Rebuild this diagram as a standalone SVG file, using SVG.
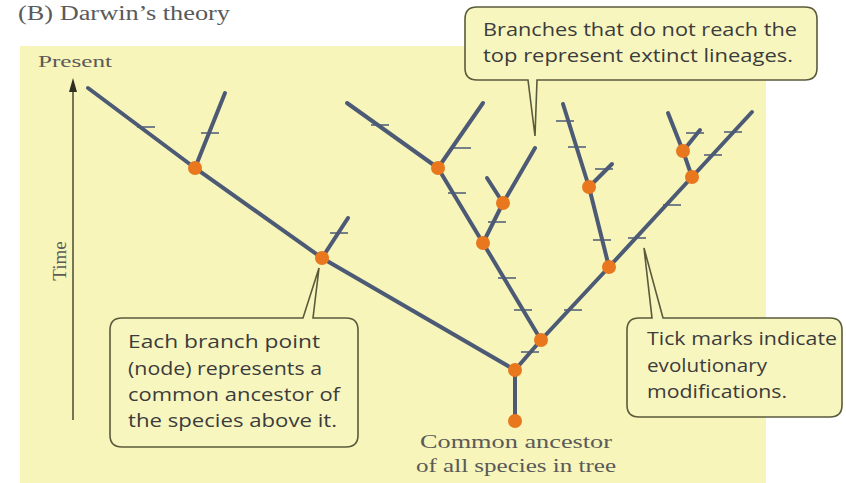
<svg xmlns="http://www.w3.org/2000/svg" width="846" height="483" viewBox="0 0 846 483">
<style>
.br{stroke:#4d5a76;stroke-width:4;stroke-linecap:round;fill:none}
.tk{stroke:#4d5a76;stroke-width:1.6;fill:none}
.nd{fill:#e8771e}
.co{fill:#f8f6bf;stroke:#5a5a3c;stroke-width:1.6}
.ct{font-family:"Open Sans","Liberation Sans",sans-serif;font-size:18px;fill:#3c3c3c}
.sf{font-family:"Liberation Serif",serif;fill:#5a5a5a}
</style>
<rect x="0" y="0" width="846" height="483" fill="#ffffff"/>
<rect x="20" y="46" width="746" height="437" fill="#f7f5b9"/>
<text class="sf" x="18" y="20" font-size="20" textLength="212" lengthAdjust="spacingAndGlyphs">(B) Darwin’s theory</text>
<g id="axis">
<text class="sf" x="38" y="67" font-size="16" textLength="74" lengthAdjust="spacingAndGlyphs">Present</text>
<line x1="73" y1="420" x2="73" y2="88" stroke="#55553a" stroke-width="1.6"/>
<polygon points="73,78 69,92 77,92" fill="#2e2e22"/>
<text class="sf" x="66" y="261" font-size="19" text-anchor="middle" transform="rotate(-90 66 261)">Time</text>
</g>
<g id="connectors">
<line class="br" x1="515" y1="421" x2="515" y2="370"/>
<polyline class="br" points="515,370 322,258 195,168 88,88"/>
<line class="br" x1="195" y1="168" x2="225" y2="93"/>
<line class="br" x1="322" y1="258" x2="348" y2="218"/>
<line class="br" x1="515" y1="370" x2="541" y2="340"/>
<line class="br" x1="541" y1="340" x2="483" y2="243"/>
<line class="br" x1="483" y1="243" x2="438" y2="168"/>
<line class="br" x1="438" y1="168" x2="347" y2="103"/>
<line class="br" x1="438" y1="168" x2="483" y2="103"/>
<line class="br" x1="483" y1="243" x2="503" y2="203"/>
<line class="br" x1="503" y1="203" x2="487" y2="178"/>
<line class="br" x1="503" y1="203" x2="535" y2="148"/>
<line class="br" x1="541" y1="340" x2="609" y2="267"/>
<line class="br" x1="609" y1="267" x2="589" y2="187"/>
<line class="br" x1="589" y1="187" x2="563" y2="104"/>
<line class="br" x1="589" y1="187" x2="612" y2="164"/>
<line class="br" x1="609" y1="267" x2="692" y2="177"/>
<line class="br" x1="692" y1="177" x2="683" y2="151"/>
<line class="br" x1="683" y1="151" x2="668" y2="113"/>
<line class="br" x1="683" y1="151" x2="700" y2="130"/>
<line class="br" x1="692" y1="177" x2="752" y2="112"/>
<path class="tk" d="M137,127h18 M201,133h18 M330,233h18 M371,125h18 M453,148h18 M448,193h18 M488,222h18 M498,278h18 M514,310h18 M521,352h18 M564,310h18 M593,240h18 M556,121h18 M568,147h18 M595,169h18 M628,238h18 M663,205h18 M686,133h18 M704,155h18 M724,132h18"/>
</g>
<g id="n1"><circle class="nd" cx="515" cy="421" r="7"/></g>
<g id="n2"><circle class="nd" cx="515" cy="370" r="7"/></g>
<g id="n3"><circle class="nd" cx="541" cy="340" r="7"/></g>
<g id="n4"><circle class="nd" cx="483" cy="243" r="7"/></g>
<g id="n5"><circle class="nd" cx="503" cy="203" r="7"/></g>
<g id="n6"><circle class="nd" cx="438" cy="168" r="7"/></g>
<g id="n7"><circle class="nd" cx="609" cy="267" r="7"/></g>
<g id="n8"><circle class="nd" cx="589" cy="187" r="7"/></g>
<g id="n9"><circle class="nd" cx="692" cy="177" r="7"/></g>
<g id="n10"><circle class="nd" cx="683" cy="151" r="7"/></g>
<g id="n11"><circle class="nd" cx="322" cy="258" r="7"/></g>
<g id="n12"><circle class="nd" cx="195" cy="168" r="7"/></g>
<g id="root-label">
<text class="sf" x="516" y="448" font-size="19" text-anchor="middle" textLength="192" lengthAdjust="spacingAndGlyphs">Common ancestor</text>
<text class="sf" x="516" y="472" font-size="19" text-anchor="middle" textLength="200" lengthAdjust="spacingAndGlyphs">of all species in tree</text>
</g>
<g id="callout-extinct">
<path class="co" d="M477,7 H805 Q817,7 817,19 V68 Q817,80 805,80 H537 L535,136 L528,80 H477 Q465,80 465,68 V19 Q465,7 477,7 Z"/>
<text class="ct" x="483" y="36" textLength="314" lengthAdjust="spacingAndGlyphs">Branches that do not reach the</text>
<text class="ct" x="483" y="62" textLength="310" lengthAdjust="spacingAndGlyphs">top represent extinct lineages.</text>
</g>
<g id="callout-node">
<path class="co" d="M122,318 H303 L319,268 L313,318 H346 Q358,318 358,330 V435 Q358,447 346,447 H122 Q110,447 110,435 V330 Q110,318 122,318 Z"/>
<text class="ct" x="128" y="348" textLength="192" lengthAdjust="spacingAndGlyphs">Each branch point</text>
<text class="ct" x="128" y="375" textLength="194" lengthAdjust="spacingAndGlyphs">(node) represents a</text>
<text class="ct" x="128" y="401" textLength="212" lengthAdjust="spacingAndGlyphs">common ancestor of</text>
<text class="ct" x="128" y="427" textLength="209" lengthAdjust="spacingAndGlyphs">the species above it.</text>
</g>
<g id="callout-ticks">
<path class="co" d="M639,318 H652 L644,248 L663,318 H830 Q842,318 842,330 V405 Q842,417 830,417 H639 Q627,417 627,405 V330 Q627,318 639,318 Z"/>
<text class="ct" x="647" y="345" textLength="190" lengthAdjust="spacingAndGlyphs">Tick marks indicate</text>
<text class="ct" x="647" y="372" textLength="120" lengthAdjust="spacingAndGlyphs">evolutionary</text>
<text class="ct" x="647" y="398" textLength="140" lengthAdjust="spacingAndGlyphs">modifications.</text>
</g>
</svg>
